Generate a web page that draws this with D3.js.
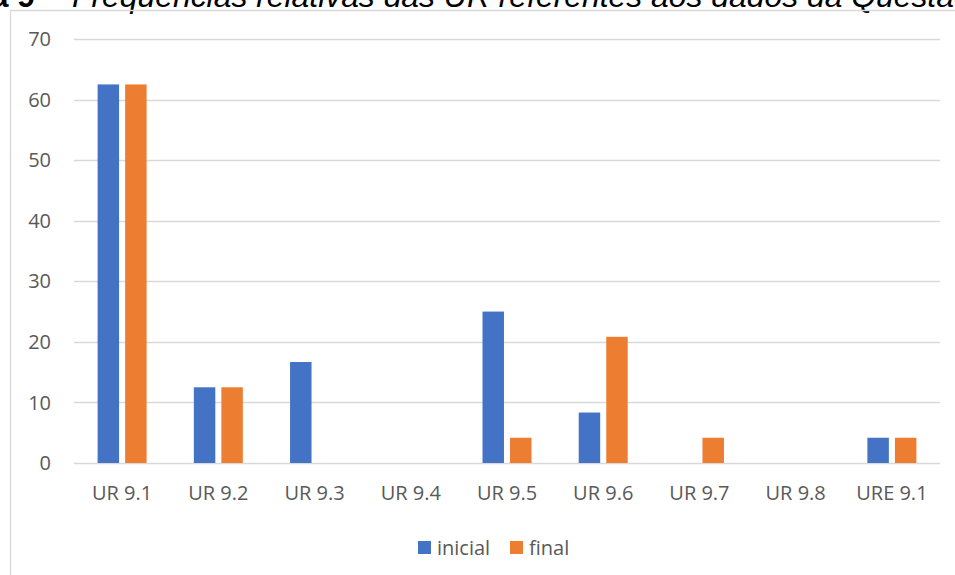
<!DOCTYPE html>
<html><head><meta charset="utf-8">
<script src="https://cdn.jsdelivr.net/npm/d3@7"></script>
<style>body{margin:0;background:#fff}svg{display:block}</style>
</head><body>
<svg id="c" width="955" height="575"></svg>
<script>
const categories = ["UR 9.1","UR 9.2","UR 9.3","UR 9.4","UR 9.5","UR 9.6","UR 9.7","UR 9.8","URE 9.1"];
const seriesNames = ["inicial","final"];
const inicial = [62.5, 12.5, 16.67, 0, 25, 8.33, 0, 0, 4.17];
const final = [62.5, 12.5, 0, 0, 4.17, 20.83, 4.17, 0, 4.17];
const yTicks = [0,10,20,30,40,50,60,70];
const colors = ["#4472C4","#ED7D31"];
const titleBold = "Figura 9";
const titleItalic = "Frequências relativas das UR referentes aos dados da Questão";

const svg = d3.select("#c");
const font = "'Open Sans', 'Liberation Sans', sans-serif";

// title (cropped at top, as in the reference)
const tb = svg.append("text").attr("x", 35).attr("y", 7).attr("text-anchor","end")
  .attr("font-family","'Liberation Sans', Arial, sans-serif").attr("font-weight","bold")
  .attr("font-size", 22).attr("fill","#000").text(titleBold);
const ti = svg.append("text").attr("x", 72).attr("y", 7)
  .attr("font-family","'Liberation Sans', Arial, sans-serif").attr("font-style","italic")
  .attr("font-size", 100).attr("fill","#000").text(titleItalic);
const w100 = ti.node().getComputedTextLength();
const fs = 100 * 900 / w100;
ti.attr("font-size", fs);
tb.attr("font-size", fs);
svg.append("text").attr("x", 53).attr("y", 7).attr("text-anchor","middle")
  .attr("font-family","'Liberation Sans', Arial, sans-serif").attr("font-style","italic")
  .attr("font-size", fs).text("–");

// chart border
svg.append("path").attr("d","M10.5,585 V10.5 H960").attr("fill","none").attr("stroke","#D9D9D9").attr("stroke-width",1.3);

const y = d3.scaleLinear().domain([0,70]).range([463,39]);
const x0 = d3.scaleBand().domain(categories).range([74,940]).padding(0);
const groupW = 49;
const x1 = d3.scaleBand().domain(seriesNames).range([0,groupW]).paddingInner(0.22);

// gridlines
svg.append("g").selectAll("line").data(yTicks).join("line")
  .attr("x1",74).attr("x2",940)
  .attr("y1",d=>Math.round(y(d))+0.5).attr("y2",d=>Math.round(y(d))+0.5)
  .attr("stroke","#D9D9D9").attr("stroke-width",1.3);

// y labels
svg.append("g").selectAll("text").data(yTicks).join("text")
  .attr("x",51).attr("y",d=>y(d)).attr("dy","0.36em").attr("text-anchor","end")
  .attr("font-family",font).attr("font-size",20).attr("fill","#595959").text(d=>d);

// bars
const data = [inicial, final];
seriesNames.forEach((s,si)=>{
  svg.append("g").selectAll("rect").data(categories.map((c,i)=>({c,v:data[si][i]})).filter(d=>d.v>0)).join("rect")
    .attr("x",d=>x0(d.c)+(x0.bandwidth()-groupW)/2 + x1(s))
    .attr("width",x1.bandwidth())
    .attr("y",d=>y(d.v))
    .attr("height",d=>y(0)-y(d.v))
    .attr("fill",colors[si]);
});

// x labels
svg.append("g").selectAll("text").data(categories).join("text")
  .attr("x",d=>x0(d)+x0.bandwidth()/2).attr("y",500).attr("text-anchor","middle")
  .attr("font-family",font).attr("font-size",20).attr("fill","#595959").text(d=>d);

// legend
const leg = [{n:"inicial",x:418},{n:"final",x:510}];
leg.forEach((l,i)=>{
  svg.append("rect").attr("x",l.x).attr("y",541).attr("width",13).attr("height",13).attr("fill",colors[i]);
  svg.append("text").attr("x",l.x+19).attr("y",548).attr("dy","0.36em")
    .attr("font-family",font).attr("font-size",20).attr("fill","#595959").text(l.n);
});
</script>
</body></html>
